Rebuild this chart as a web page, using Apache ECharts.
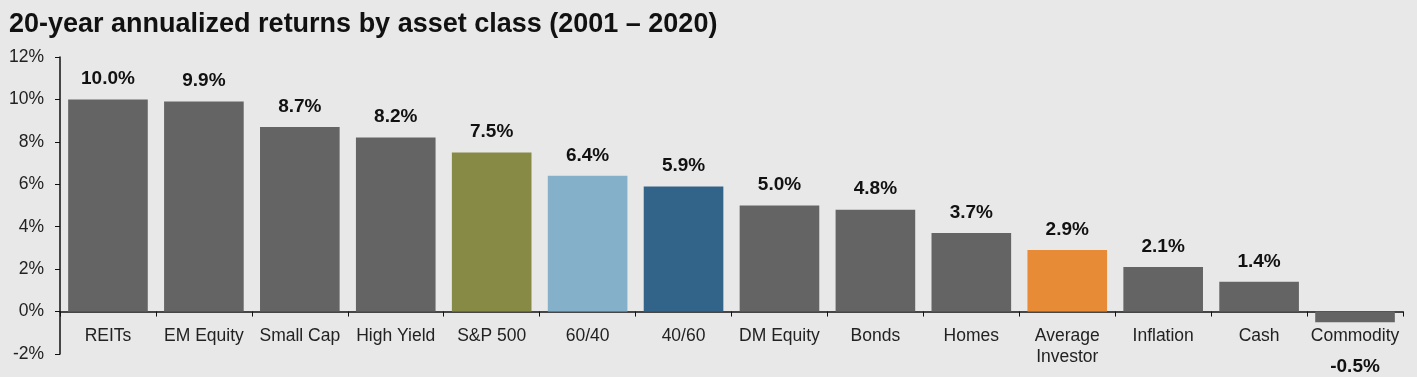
<!DOCTYPE html>
<html>
<head>
<meta charset="utf-8">
<script src="https://cdn.jsdelivr.net/npm/echarts@6/dist/echarts.min.js"></script>
<style>
  html, body { margin: 0; padding: 0; background: #e8e8e8; }
  #main { width: 1417px; height: 377px; }
</style>
</head>
<body>
<div id="main"></div>
<script>
// 类别、数值、颜色
var categories = ['REITs', 'EM Equity', 'Small Cap', 'High Yield', 'S&P 500', '60/40', '40/60',
    'DM Equity', 'Bonds', 'Homes', 'Average\nInvestor', 'Inflation', 'Cash', 'Commodity'];
var returns = [10.0, 9.9, 8.7, 8.2, 7.5, 6.4, 5.9, 5.0, 4.8, 3.7, 2.9, 2.1, 1.4, -0.5];
var barColors = ['#646464', '#646464', '#646464', '#646464', '#878a45', '#84b0c9', '#316488',
    '#646464', '#646464', '#646464', '#e78b37', '#646464', '#646464', '#646464'];

(function() {
    var myChart = echarts.init(document.getElementById('main'));

    var gridTop = 57, gridBottom = 23, yMin = -2, yMax = 12;
    // x轴放在0%的位置（用 offset 往上移）
    var plotH = 377 - gridTop - gridBottom;
    var zeroOffset = -plotH * (0 - yMin) / (yMax - yMin);

    var seriesData = returns.map(function(v, i) {
        var item = { value: v, itemStyle: { color: barColors[i] } };
        if (v < 0) {
            // 负值标签放在类别名下面
            item.label = { position: 'bottom', distance: 35 };
        }
        return item;
    });

    var option = {
        backgroundColor: '#e8e8e8',
        title: {
            text: '20-year annualized returns by asset class (2001 – 2020)',
            left: 4,
            top: 6,
            textStyle: {
                fontFamily: 'Liberation Sans',
                fontSize: 27,
                fontWeight: 'bold',
                color: '#111'
            }
        },
        grid: {
            left: 60,
            right: 14,
            top: gridTop,
            bottom: gridBottom,
            outerBoundsMode: 'none',
            containLabel: false
        },
        xAxis: {
            type: 'category',
            data: categories,
            offset: zeroOffset,
            axisLine: { onZero: false, lineStyle: { color: '#111', width: 1.5 } },
            axisTick: { show: true, alignWithLabel: false, length: 5, lineStyle: { color: '#111' } },
            axisLabel: {
                interval: 0,
                margin: 14,
                fontFamily: 'Liberation Sans',
                fontSize: 17.5,
                color: '#222',
                lineHeight: 21
            }
        },
        yAxis: {
            type: 'value',
            min: yMin,
            max: yMax,
            interval: 2,
            splitLine: { show: false },
            axisLine: { show: true, lineStyle: { color: '#111', width: 1.5 } },
            axisTick: { show: true, inside: false, length: 5, lineStyle: { color: '#111' } },
            axisLabel: {
                formatter: '{value}%',
                margin: 16,
                fontFamily: 'Liberation Sans',
                fontSize: 17.5,
                color: '#222'
            }
        },
        series: [{
            type: 'bar',
            data: seriesData,
            barCategoryGap: '17%',
            label: {
                show: true,
                position: 'top',
                distance: 11,
                formatter: function(p) { return p.value.toFixed(1) + '%'; },
                fontFamily: 'Liberation Sans',
                fontSize: 19,
                fontWeight: 'bold',
                color: '#111'
            }
        }]
    };

    myChart.setOption(option);
})();
</script>
</body>
</html>
